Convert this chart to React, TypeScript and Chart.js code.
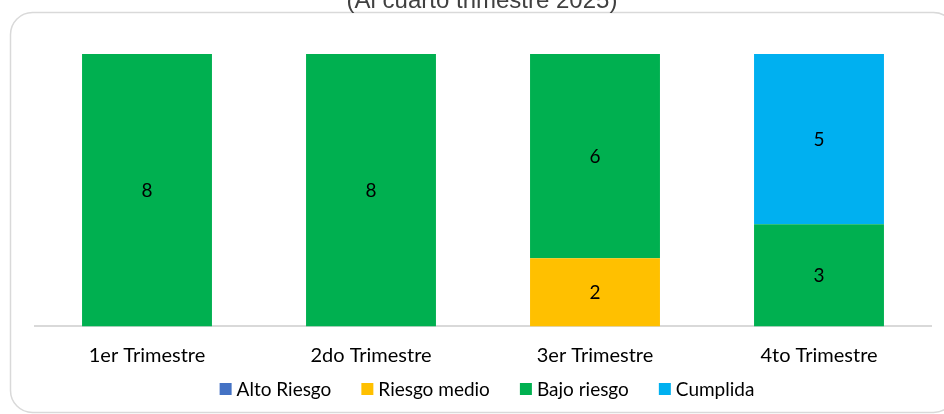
import React, { useEffect, useRef } from "react";
import { Chart, registerables } from "chart.js";

Chart.register(...registerables);

const categories = ["1er Trimestre", "2do Trimestre", "3er Trimestre", "4to Trimestre"];
const altoRiesgo = [0, 0, 0, 0];
const riesgoMedio = [0, 0, 2, 0];
const bajoRiesgo = [8, 8, 6, 3];
const cumplida = [0, 0, 0, 5];
const titleText = "(Al cuarto trimestre 2025)";

const FONT = "Lato, 'Open Sans', sans-serif";

const framePlugin = {
  id: "frame",
  beforeDraw(chart: any) {
    const ctx = chart.ctx;
    ctx.save();
    ctx.fillStyle = "#ffffff";
    ctx.fillRect(0, 0, chart.width, chart.height);
    const x = 10.5, y = 12.5, w = 945, h = 400, r = 22;
    ctx.beginPath();
    ctx.moveTo(x + r, y);
    ctx.lineTo(x + w - r, y);
    ctx.arcTo(x + w, y, x + w, y + r, r);
    ctx.lineTo(x + w, y + h - r);
    ctx.arcTo(x + w, y + h, x + w - r, y + h, r);
    ctx.lineTo(x + r, y + h);
    ctx.arcTo(x, y + h, x, y + h - r, r);
    ctx.lineTo(x, y + r);
    ctx.arcTo(x, y, x + r, y, r);
    ctx.closePath();
    ctx.strokeStyle = "#d9d9d9";
    ctx.lineWidth = 1.5;
    ctx.stroke();
    ctx.fillStyle = "#404040";
    ctx.font = "24px 'Liberation Sans', Arial, sans-serif";
    ctx.textAlign = "center";
    ctx.textBaseline = "alphabetic";
    ctx.fillText(titleText, 482, 8);
    ctx.restore();
  },
};

const labelPlugin = {
  id: "valueLabels",
  afterDatasetsDraw(chart: any) {
    const ctx = chart.ctx;
    ctx.save();
    ctx.fillStyle = "#000000";
    ctx.font = "19px " + FONT;
    ctx.textAlign = "center";
    ctx.textBaseline = "middle";
    chart.data.datasets.forEach((ds: any, i: number) => {
      const meta = chart.getDatasetMeta(i);
      meta.data.forEach((bar: any, j: number) => {
        const v = ds.data[j];
        if (!v) return;
        const cy = (bar.y + bar.base) / 2;
        ctx.fillText(String(v), bar.x, cy + 1);
      });
    });
    ctx.restore();
  },
};

const legendPlugin = {
  id: "customLegend",
  afterDraw(chart: any) {
    const ctx = chart.ctx;
    ctx.save();
    ctx.font = "19px " + FONT;
    ctx.textBaseline = "middle";
    ctx.textAlign = "left";
    const box = 12, gapBox = 5, gapItem = 30;
    const items = chart.data.datasets.map((ds: any) => ({
      label: ds.label,
      color: ds.backgroundColor,
      w: ctx.measureText(ds.label).width,
    }));
    const total = items.reduce((s: number, it: any) => s + box + gapBox + it.w, 0) + gapItem * (items.length - 1);
    let x = 487 - total / 2;
    const cy = 389;
    items.forEach((it: any) => {
      ctx.fillStyle = it.color;
      ctx.fillRect(x, cy - box / 2, box, box);
      x += box + gapBox;
      ctx.fillStyle = "#000000";
      ctx.fillText(it.label, x, cy + 1);
      x += it.w + gapItem;
    });
    ctx.restore();
  },
};

export default function App() {
  const ref = useRef<HTMLCanvasElement | null>(null);
  useEffect(() => {
    if (!ref.current) return;
    const chart = new Chart(ref.current, {
      type: "bar",
      data: {
        labels: categories,
        datasets: [
          { label: "Alto Riesgo", data: altoRiesgo, backgroundColor: "#4472C4" },
          { label: "Riesgo medio", data: riesgoMedio, backgroundColor: "#FFC000" },
          { label: "Bajo riesgo", data: bajoRiesgo, backgroundColor: "#00B050" },
          { label: "Cumplida", data: cumplida, backgroundColor: "#00B0F0" },
        ],
      },
      options: {
        animation: false,
        responsive: false,
        maintainAspectRatio: false,
        layout: { padding: { top: 54, left: 35, right: 13, bottom: 28.4 } },
        datasets: { bar: { categoryPercentage: 1, barPercentage: 0.58 } },
        scales: {
          x: {
            stacked: true,
            grid: { display: false, drawTicks: false },
            border: { display: true, color: "#d9d9d9", width: 2 },
            ticks: { color: "#000000", font: { family: FONT, size: 20 }, padding: 17.6 },
          },
          y: {
            stacked: true,
            display: false,
            min: 0,
            max: 8,
          },
        },
        plugins: {
          legend: { display: false },
          title: { display: false },
          tooltip: { enabled: false },
        },
      },
      plugins: [framePlugin, labelPlugin, legendPlugin],
    });
    return () => chart.destroy();
  }, []);
  return (
    <div style={{ position: "absolute", left: 0, top: 0, width: 944, height: 414 }}>
      <canvas ref={ref} width={944} height={414} style={{ display: "block" }} />
    </div>
  );
}
